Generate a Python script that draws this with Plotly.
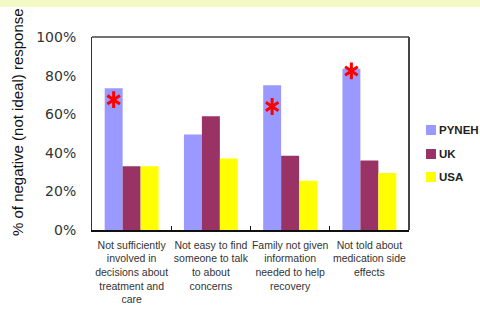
import plotly.graph_objects as go

categories = [
    "Not sufficiently<br>involved in<br>decisions about<br>treatment and<br>care",
    "Not easy to find<br>someone to talk<br>to about<br>concerns",
    "Family not given<br>information<br>needed to help<br>recovery",
    "Not told about<br>medication side<br>effects",
]
series_names = ["PYNEH", "UK", "USA"]
pyneh = [73.5, 49.5, 75, 83.5]
uk = [33, 59, 38.5, 36]
usa = [33, 37, 25.5, 29.5]
colors = ["#9999FF", "#993366", "#FFFF00"]
star_idx = [0, 2, 3]
star_y = [67.5, 64, 82.4]
y_ticks = [0, 20, 40, 60, 80, 100]
y_ticktext = ["0%", "20%", "40%", "60%", "80%", "100%"]

W, H = 480, 322
L, R, T, B = 92, 409, 37, 230
pw, ph = R - L, B - T

def px_x(p):
    return (p - L) / pw

def px_y(p):
    return (B - p) / ph

fig = go.Figure()
for name, vals, c in zip(series_names, [pyneh, uk, usa], colors):
    fig.add_trace(go.Bar(x=categories, y=vals, name=name, marker_color=c,
                         marker_line_width=0, showlegend=False))

for sym in ["y-up-open", "y-down-open"]:
    fig.add_trace(go.Scatter(
        x=[i - 0.227 for i in star_idx], y=star_y, mode="markers", xaxis="x2",
        marker=dict(symbol=sym, size=10.5, color="#FF0000",
                    line=dict(color="#FF0000", width=3)),
        showlegend=False, hoverinfo="skip"))

shapes = [
    dict(type="rect", xref="paper", yref="paper", x0=px_x(0), x1=px_x(W),
         y0=px_y(7), y1=px_y(-5), fillcolor="#F4FAC6", line_width=0, layer="below"),
    dict(type="line", xref="paper", yref="paper", x0=0, x1=1, y0=1, y1=1,
         line=dict(color="#444", width=1.5)),
    dict(type="line", xref="paper", yref="paper", x0=1, x1=1, y0=0, y1=1,
         line=dict(color="#444", width=2)),
]
annotations = [dict(text="% of negative (not ideal) response", textangle=-90,
                    xref="paper", yref="paper", x=px_x(17), y=px_y(122),
                    xanchor="center", yanchor="middle", showarrow=False,
                    font=dict(family="Liberation Sans", size=15, color="#111"))]

# legend (manual, to match compact layout)
leg_y = [130, 154, 177]
for name, c, yy in zip(series_names, colors, leg_y):
    shapes.append(dict(type="rect", xref="paper", yref="paper",
                       x0=px_x(426), x1=px_x(436), y0=px_y(yy + 5), y1=px_y(yy - 5),
                       fillcolor=c, line_width=0))
    annotations.append(dict(text=name, xref="paper", yref="paper", x=px_x(437),
                            y=px_y(yy), xanchor="left", yanchor="middle",
                            showarrow=False,
                            font=dict(family="Liberation Sans", size=11.5,
                                      color="#222", weight="bold")))

fig.update_layout(
    width=W, height=H,
    margin=dict(l=L, r=W - R, t=T, b=H - B, autoexpand=False),
    paper_bgcolor="white", plot_bgcolor="white",
    barmode="group", bargap=0.32, bargroupgap=0,
    showlegend=False,
    xaxis=dict(type="category", showline=True, linecolor="#111", linewidth=2,
               ticks="inside", tickson="boundaries", ticklen=4, tickcolor="#111",
               tickangle=0, automargin=False, ticklabelstandoff=4,
               tickfont=dict(family="Liberation Sans", size=10.5, color="#333"),
               showgrid=False),
    xaxis2=dict(overlaying="x", range=[-0.5, 3.5], visible=False),
    yaxis=dict(range=[0, 100], tickvals=y_ticks, ticktext=y_ticktext,
               showline=True, linecolor="#333", linewidth=1, showgrid=False,
               ticks="", ticklabelstandoff=12, automargin=False,
               tickfont=dict(family="DejaVu Sans", size=14, color="#333"),
               zeroline=False),
    shapes=shapes,
    annotations=annotations,
)

fig.write_html("out.html")
